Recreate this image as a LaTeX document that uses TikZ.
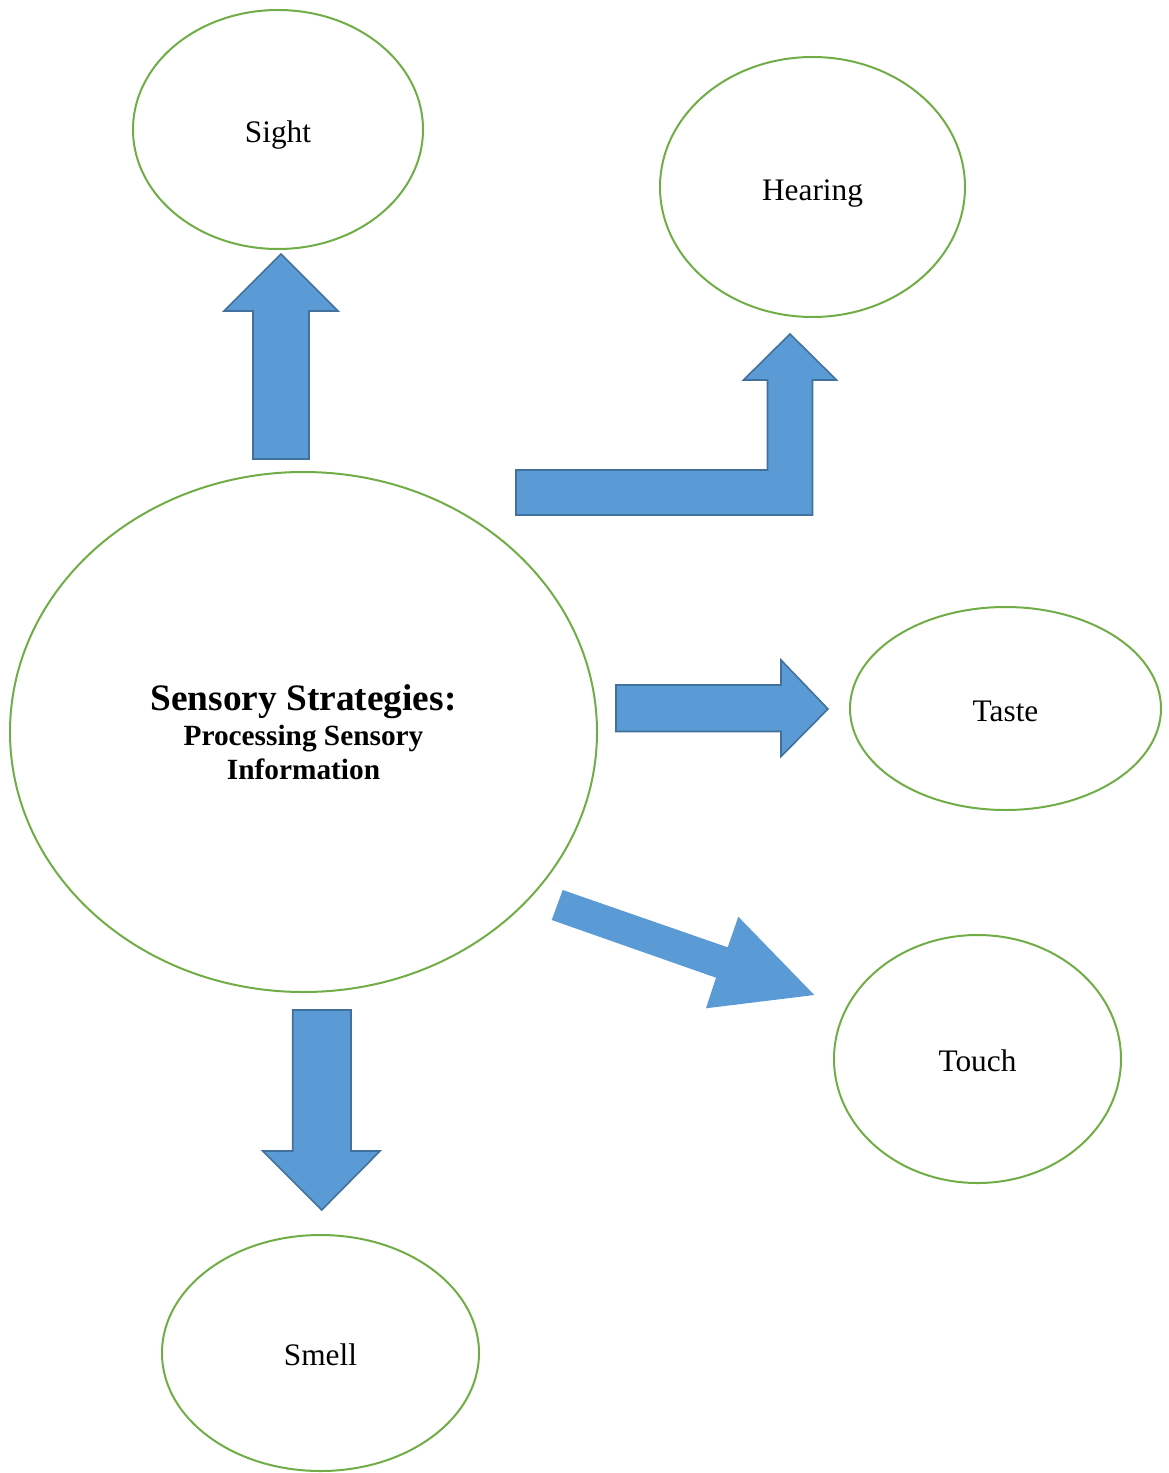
\documentclass[tikz,border=0pt]{standalone}
\usepackage{fontspec}
\setmainfont{Liberation Serif}
\usetikzlibrary{shapes.geometric}
\definecolor{ringgreen}{HTML}{70AD47}
\definecolor{arrowfill}{HTML}{5B9BD5}
\definecolor{arrowline}{HTML}{41719C}
\tikzset{
  sense/.style={ellipse, draw=ringgreen, line width=1.5pt, inner sep=0pt,
    font=\fontsize{23.5}{28}\selectfont},
  textpos/.style 2 args={text height=#1, text depth=#2},
  blockarrow/.style={fill=arrowfill, draw=arrowline, line width=1.2pt, line join=miter},
  flatarrow/.style={fill=arrowfill, draw=none}
}
\begin{document}
\begin{tikzpicture}[x=0.75pt, y=-0.75pt]
\useasboundingbox (0,0) rectangle (1168,1473);
% ellipses
\node[sense, textpos={25pt}{5.1pt}, minimum width=217.5pt, minimum height=179.25pt] (sight) at (278,129.5) {Sight};
\node[sense, textpos={25pt}{5.1pt}, minimum width=228.75pt, minimum height=195pt] (hearing) at (812.5,187) {Hearing};
\node[sense, textpos={20pt}{0pt}, minimum width=233.25pt, minimum height=152.25pt] (taste) at (1005.5,708.5) {Taste};
\node[sense, textpos={19pt}{0pt}, minimum width=215.25pt, minimum height=186pt] (touch) at (977.5,1059) {Touch};
\node[sense, textpos={19pt}{0pt}, minimum width=237.75pt, minimum height=177pt] (smell) at (320.5,1353) {Smell};
\node[ellipse, draw=ringgreen, line width=1.5pt, inner sep=0pt,
  minimum width=440.25pt, minimum height=390pt, align=center,
  font=\fontsize{22}{25.5}\selectfont\bfseries] (main) at (303.5,732)
  {{\fontsize{28}{28}\selectfont Sensory Strategies:}\\[0.5pt]Processing Sensory\\Information};
% arrow to Sight
\draw[blockarrow] (253,459) -- (253,311) -- (224,311) -- (281,254) -- (338,311) -- (309,311) -- (309,459) -- cycle;
% bent arrow to Hearing
\draw[blockarrow] (516,470) -- (767.5,470) -- (767.5,380) -- (743.5,380) -- (790,334) -- (836.5,380) -- (812.5,380) -- (812.5,515) -- (516,515) -- cycle;
% arrow to Taste
\draw[blockarrow] (616,685) -- (781,685) -- (781,660) -- (828,709) -- (781,756.5) -- (781,731.5) -- (616,731.5) -- cycle;
% arrow to Touch
\fill[flatarrow] (562.7,890) -- (727.7,947.3) -- (738.3,916.7) -- (814.3,995) -- (706,1008.3) -- (716,977.7) -- (551.7,920) -- cycle;
% arrow to Smell
\draw[blockarrow] (292.7,1010) -- (351,1010) -- (351,1151) -- (380,1151) -- (321.7,1210) -- (262.7,1151) -- (292.7,1151) -- cycle;
\end{tikzpicture}
\end{document}
